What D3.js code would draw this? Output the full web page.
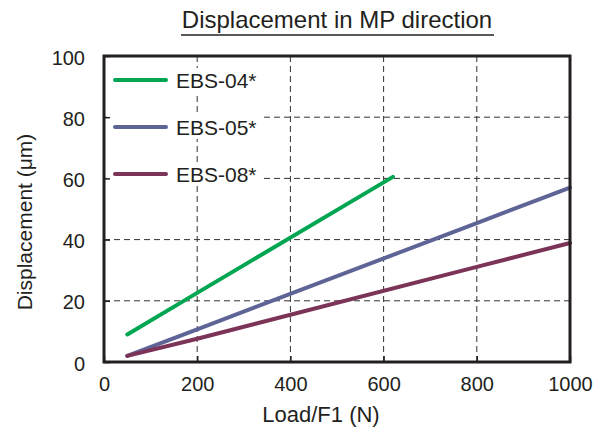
<!DOCTYPE html>
<html>
<head>
<meta charset="utf-8">
<script src="https://cdn.jsdelivr.net/npm/d3@7"></script>
<style>
  body { margin: 0; background: #fff; }
  text { font-family: "Liberation Sans", Arial, sans-serif; fill: #231f20; }
</style>
</head>
<body>
<div id="chart"></div>
<script>
var seriesNames = ["EBS-04*", "EBS-05*", "EBS-08*"];
var seriesColors = ["#00a651", "#5f6496", "#7b3457"];
var ebs04 = [[50, 9], [200, 22.6], [620, 60.5]];
var ebs05 = [[50, 2], [200, 10.7], [800, 45.4], [1000, 57]];
var ebs08 = [[50, 2], [200, 7.6], [800, 31.1], [1000, 38.9]];
var xTicks = [0, 200, 400, 600, 800, 1000];
var yTicks = [0, 20, 40, 60, 80, 100];

var width = 597, height = 432;
var margin = {left: 104, right: 27, top: 56, bottom: 70};

var svg = d3.select("#chart").append("svg").attr("width", width).attr("height", height);

var x = d3.scaleLinear().domain([0, 1000]).range([margin.left, width - margin.right]);
var y = d3.scaleLinear().domain([0, 100]).range([height - margin.bottom, margin.top]);

// grid
svg.append("g").selectAll("line")
    .data(xTicks.slice(1, -1))
    .enter().append("line")
    .attr("x1", function(d) { return x(d); }).attr("x2", function(d) { return x(d); })
    .attr("y1", y(0)).attr("y2", y(100))
    .attr("stroke", "#333").attr("stroke-width", 1).attr("stroke-dasharray", "6,4");
svg.append("g").selectAll("line")
    .data(yTicks.slice(1, -1))
    .enter().append("line")
    .attr("y1", function(d) { return y(d); }).attr("y2", function(d) { return y(d); })
    .attr("x1", x(0)).attr("x2", x(1000))
    .attr("stroke", "#333").attr("stroke-width", 1).attr("stroke-dasharray", "6,4");

// legend backgrounds (hide grid behind entries)
var legendY = [80, 127, 174];
svg.append("g").selectAll("rect")
    .data(legendY)
    .enter().append("rect")
    .attr("x", x(0) + 3).attr("y", function(d) { return d - 12; })
    .attr("width", 156).attr("height", 24)
    .attr("fill", "#fff");

// lines
var line = d3.line().x(function(d) { return x(d[0]); }).y(function(d) { return y(d[1]); });
var allSeries = [ebs04, ebs05, ebs08];
svg.append("g").selectAll("path")
    .data(allSeries)
    .enter().append("path")
    .attr("d", line)
    .attr("fill", "none")
    .attr("stroke", function(d, i) { return seriesColors[i]; })
    .attr("stroke-width", 4)
    .attr("stroke-linecap", "round");

// frame
svg.append("rect")
    .attr("x", x(0)).attr("y", y(100))
    .attr("width", x(1000) - x(0)).attr("height", y(0) - y(100))
    .attr("fill", "none").attr("stroke", "#231f20").attr("stroke-width", 3);

// inward ticks
var xAxis = d3.axisBottom(x).tickValues(xTicks).tickSize(-6).tickFormat(d3.format("d"));
var gx = svg.append("g").attr("transform", "translate(0," + y(0) + ")").call(xAxis);
var yAxis = d3.axisLeft(y).tickValues(yTicks).tickSize(-6).tickFormat(d3.format("d"));
var gy = svg.append("g").attr("transform", "translate(" + x(0) + ",0)").call(yAxis);
[gx, gy].forEach(function(g) {
    g.select(".domain").remove();
    g.selectAll(".tick line").attr("stroke", "#231f20").attr("stroke-width", 1.5);
    g.selectAll(".tick text").style("font-size", "20px").attr("fill", "#231f20");
});
gx.selectAll(".tick text").attr("dy", null).attr("y", 29);
gy.selectAll(".tick text").attr("x", -19).attr("dy", null).attr("y", 8);

// legend
var lg = svg.append("g");
seriesNames.forEach(function(name, i) {
    lg.append("line")
        .attr("x1", 115).attr("x2", 166)
        .attr("y1", legendY[i]).attr("y2", legendY[i])
        .attr("stroke", seriesColors[i]).attr("stroke-width", 4).attr("stroke-linecap", "round");
    lg.append("text")
        .attr("x", 176).attr("y", legendY[i] + 8)
        .style("font-size", "21px")
        .text(name);
});

// title
svg.append("text")
    .attr("x", 337).attr("y", 28)
    .attr("text-anchor", "middle")
    .style("font-size", "24px")
    .text("Displacement in MP direction");
svg.append("line")
    .attr("x1", 181).attr("x2", 494).attr("y1", 35).attr("y2", 35)
    .attr("stroke", "#231f20").attr("stroke-width", 1.5);

// axis labels
svg.append("text")
    .attr("x", 321).attr("y", 422)
    .attr("text-anchor", "middle")
    .style("font-size", "22px")
    .text("Load/F1 (N)");
svg.append("text")
    .attr("transform", "translate(32,222) rotate(-90)")
    .attr("text-anchor", "middle")
    .style("font-size", "21px")
    .text("Displacement (μm)");
</script>
</body>
</html>
